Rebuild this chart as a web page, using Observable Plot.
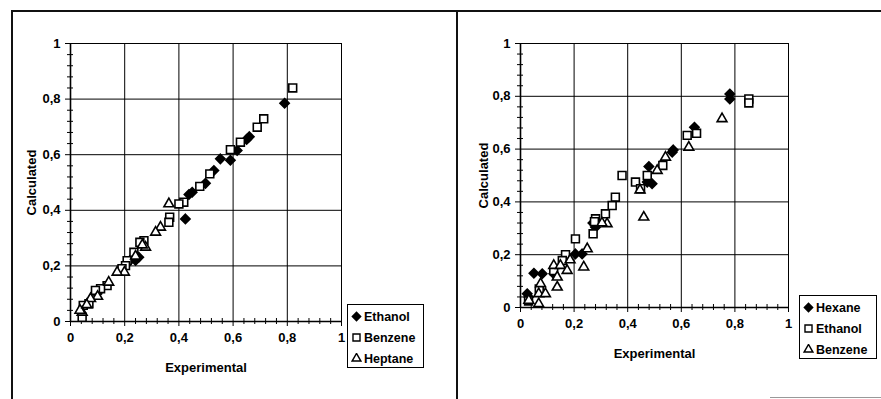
<!DOCTYPE html>
<html><head><meta charset="utf-8">
<script src="https://cdn.jsdelivr.net/npm/d3@7"></script>
<script src="https://cdn.jsdelivr.net/npm/@observablehq/plot@0.6"></script>
<style>
body{margin:0;background:#fff;}
#wrap{position:relative;width:881px;height:399px;overflow:hidden;background:#fff;font-family:"Liberation Sans",Arial,sans-serif;}
.rule{position:absolute;background:#111;}
.panel{position:absolute;top:0;}
.legend{position:absolute;border:1px solid #000;background:#fff;font-weight:bold;font-size:12.5px;color:#000;box-sizing:border-box;padding-top:1px;}
.legend .row{height:21px;display:flex;align-items:center;white-space:nowrap;}
.legend svg{margin-left:3px;margin-right:2px;}
</style></head><body><div id="wrap"></div>
<script>
// ---- tick values ----
const majorTicks = [0, 0.2, 0.4, 0.6, 0.8, 1];
const minorTicks = [0.04,0.08,0.12,0.16,0.24,0.28,0.32,0.36,0.44,0.48,0.52,0.56,0.64,0.68,0.72,0.76,0.84,0.88,0.92,0.96];

// ---- left panel ----
const leftNames = ["Ethanol", "Benzene", "Heptane"];
const leftEthanolX = [0.79,0.66,0.65,0.615,0.59,0.553,0.529,0.498,0.449,0.437,0.424,0.252,0.24,0.098,0.22];
const leftEthanolY = [0.785,0.665,0.655,0.615,0.58,0.585,0.543,0.497,0.465,0.457,0.369,0.231,0.22,0.10,0.22];
const leftBenzeneX = [0.82,0.713,0.689,0.627,0.59,0.514,0.477,0.418,0.40,0.366,0.363,0.271,0.256,0.234,0.209,0.203,0.19,0.135,0.111,0.092,0.068,0.047,0.043];
const leftBenzeneY = [0.84,0.729,0.699,0.645,0.618,0.531,0.486,0.429,0.423,0.375,0.357,0.291,0.285,0.249,0.219,0.201,0.19,0.129,0.118,0.112,0.064,0.058,0.015];
const leftHeptaneX = [0.363,0.332,0.314,0.277,0.265,0.24,0.199,0.172,0.141,0.10,0.074,0.043,0.035,0.06];
const leftHeptaneY = [0.423,0.339,0.321,0.267,0.275,0.235,0.177,0.177,0.141,0.09,0.082,0.033,0.04,0.06];

// ---- right panel ----
const rightNames = ["Hexane", "Ethanol", "Benzene"];
const rightHexaneX = [0.781,0.781,0.649,0.57,0.566,0.479,0.491,0.473,0.28,0.27,0.205,0.23,0.124,0.05,0.081,0.025,0.03];
const rightHexaneY = [0.809,0.79,0.683,0.597,0.588,0.534,0.469,0.475,0.304,0.32,0.203,0.203,0.128,0.13,0.128,0.052,0.04];
const rightEthanolX = [0.852,0.852,0.657,0.622,0.531,0.473,0.429,0.448,0.379,0.354,0.342,0.317,0.28,0.271,0.276,0.205,0.168,0.156,0.124,0.07,0.03];
const rightEthanolY = [0.79,0.775,0.66,0.652,0.538,0.50,0.475,0.45,0.50,0.418,0.386,0.355,0.336,0.279,0.325,0.26,0.20,0.178,0.14,0.07,0.025];
const rightBenzeneX = [0.752,0.628,0.541,0.51,0.446,0.46,0.323,0.304,0.249,0.236,0.124,0.149,0.174,0.137,0.137,0.075,0.068,0.093,0.068,0.031,0.185];
const rightBenzeneY = [0.715,0.607,0.569,0.519,0.445,0.342,0.317,0.32,0.222,0.153,0.159,0.159,0.14,0.115,0.077,0.09,0.052,0.052,0.014,0.027,0.18];

// ---- marker styles (by series order) ----
const markerStyles = [
  {symbol: "diamond2", fill: "black", r: 4.2},
  {symbol: "square2", fill: "white", r: 5},
  {symbol: "triangle2", fill: "white", r: 4.7}
];

const fmt = d => String(d).replace(".", ",");
const font = {fontFamily: "Liberation Sans, Arial, sans-serif", fontWeight: "bold", fontSize: 13};

function rows(xs, ys) { return xs.map((x, i) => ({x, y: ys[i]})); }

function panel(series, m) {
  const marks = [
    Plot.gridX(majorTicks, {stroke: "black", strokeOpacity: 1, strokeWidth: 1}),
    Plot.gridY(majorTicks, {stroke: "black", strokeOpacity: 1, strokeWidth: 1}),
    Plot.frame({stroke: "black", strokeWidth: 1}),
    Plot.axisY(majorTicks, {anchor: "left", tickSize: 5, tickPadding: 5, tickFormat: fmt, label: "Calculated", labelAnchor: "center", labelArrow: "none", labelOffset: m.yLabelOffset, ...font}),
    Plot.axisY(minorTicks, {anchor: "left", tickSize: 6, dx: 3, tickFormat: () => "", label: null}),
    Plot.axisX(majorTicks, {anchor: "bottom", tickSize: 5, tickPadding: 6, tickFormat: fmt, label: "Experimental", labelAnchor: "center", labelOffset: m.xLabelOffset, labelArrow: "none", ...font}),
    Plot.axisX(minorTicks, {anchor: "bottom", tickSize: 6, dy: -3, tickFormat: () => "", label: null}),
    Plot.ruleX([0], {stroke: "black", strokeWidth: 1.6}),
    Plot.ruleY([0], {stroke: "black", strokeWidth: 1.6})
  ];
  series.forEach((s, i) => {
    const st = markerStyles[i];
    marks.push(Plot.dot(rows(s[0], s[1]), {x: "x", y: "y", symbol: st.symbol, fill: st.fill, stroke: "black", strokeWidth: 1.6, r: st.r}));
  });
  return Plot.plot({
    width: m.width, height: 399,
    marginLeft: m.left, marginRight: m.right, marginTop: m.top, marginBottom: m.bottom,
    x: {domain: [0, 1]}, y: {domain: [0, 1]},
    style: {background: "transparent", overflow: "visible", fontFamily: "Liberation Sans, Arial, sans-serif"},
    marks
  });
}

function legend(names, box) {
  const div = document.createElement("div");
  div.className = "legend";
  Object.assign(div.style, {left: box.left + "px", top: box.top + "px", width: box.width + "px", height: box.height + "px"});
  names.forEach((n, i) => {
    const st = markerStyles[i];
    const row = document.createElement("div");
    row.className = "row";
    const sym = {diamond2: d3.symbolDiamond2, square2: d3.symbolSquare2, triangle2: d3.symbolTriangle2}[st.symbol];
    const size = Math.PI * st.r * st.r * 0.8;
    const svg = d3.create("svg").attr("width", 11).attr("height", 11).attr("viewBox", "-5.5 -5.5 11 11");
    svg.append("path").attr("d", d3.symbol(sym, size)()).attr("fill", st.fill).attr("stroke", "black").attr("stroke-width", 1.4);
    row.appendChild(svg.node());
    const t = document.createElement("span");
    t.textContent = n;
    row.appendChild(t);
    div.appendChild(row);
  });
  return div;
}

const wrap = document.getElementById("wrap");

const left = panel([[leftEthanolX, leftEthanolY], [leftBenzeneX, leftBenzeneY], [leftHeptaneX, leftHeptaneY]],
  {width: 440, left: 70, right: 99, top: 43, bottom: 78, yLabelOffset: 44, xLabelOffset: 50});
left.classList.add("panel"); left.style.left = "0px";
wrap.appendChild(left);

const right = panel([[rightHexaneX, rightHexaneY], [rightEthanolX, rightEthanolY], [rightBenzeneX, rightBenzeneY]],
  {width: 441, left: 80, right: 93, top: 43, bottom: 92, yLabelOffset: 42, xLabelOffset: 50});
right.classList.add("panel"); right.style.left = "440px";
wrap.appendChild(right);

wrap.appendChild(legend(leftNames, {left: 347, top: 304, width: 77, height: 64}));
wrap.appendChild(legend(rightNames, {left: 799, top: 295, width: 78, height: 64}));

// outer panel borders
function rule(l, t, w, h, c) { const d = document.createElement("div"); d.className = "rule"; Object.assign(d.style, {left: l + "px", top: t + "px", width: w + "px", height: h + "px"}); if (c) d.style.background = c; wrap.appendChild(d); }
rule(11, 10, 870, 1.6);
rule(11, 10, 1.6, 389);
rule(456, 10, 1.8, 389);
rule(770, 397, 111, 1, "#999");
</script></body></html>
